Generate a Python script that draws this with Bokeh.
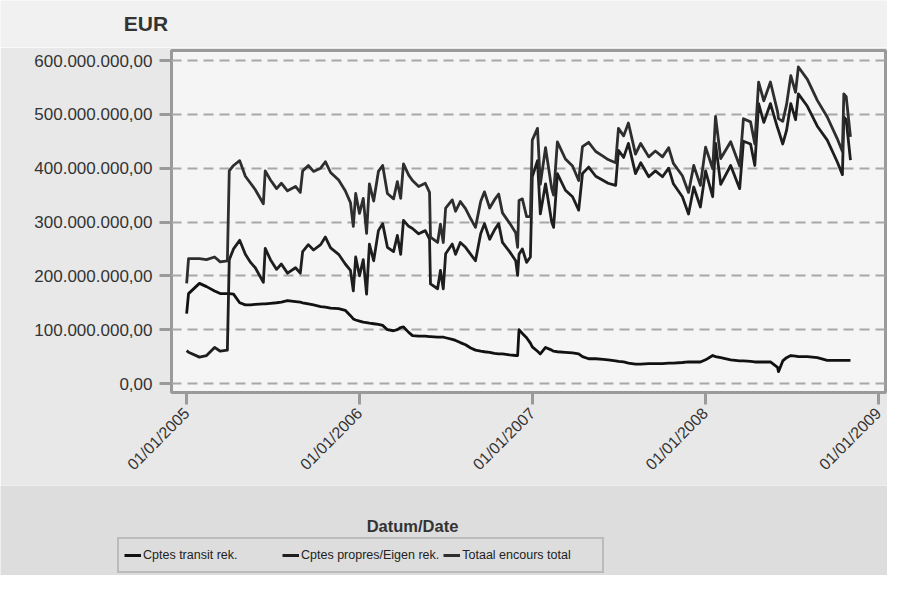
import math
import numpy as np
import pandas as pd
from bokeh.plotting import figure
from bokeh.layouts import column, row
from bokeh.models import (ColumnDataSource, Range1d, FixedTicker, DatetimeTickFormatter,
                          Legend, LegendItem)
from bokeh.core.properties import value
from bokeh.embed import file_html
from bokeh.resources import INLINE

# ---------------- data (values in millions of EUR) ----------------
dates = [
    "2005-01-01", "2005-01-05", "2005-01-28", "2005-02-12", "2005-03-01", "2005-03-13", "2005-03-28",
    "2005-04-01", "2005-04-10", "2005-04-23", "2005-05-05", "2005-05-16", "2005-05-26", "2005-06-12",
    "2005-06-16", "2005-06-27", "2005-07-10", "2005-07-20", "2005-08-02", "2005-08-19", "2005-08-29",
    "2005-09-03", "2005-09-15", "2005-09-26", "2005-10-11", "2005-10-21", "2005-11-01", "2005-11-18",
    "2005-12-02", "2005-12-13", "2005-12-19", "2005-12-24", "2006-01-01", "2006-01-09", "2006-01-16",
    "2006-01-22", "2006-01-31", "2006-02-10", "2006-02-19", "2006-03-01", "2006-03-14", "2006-03-22",
    "2006-03-29", "2006-04-04", "2006-04-15", "2006-04-23", "2006-05-06", "2006-05-20", "2006-05-29",
    "2006-05-31", "2006-06-15", "2006-06-21", "2006-06-27", "2006-07-02", "2006-07-16", "2006-07-23",
    "2006-08-02", "2006-08-13", "2006-08-24", "2006-09-03", "2006-09-14", "2006-09-22", "2006-10-03",
    "2006-10-13", "2006-10-22", "2006-10-30", "2006-11-14", "2006-11-27", "2006-12-01", "2006-12-04",
    "2006-12-11", "2006-12-20", "2006-12-28", "2007-01-01", "2007-01-12", "2007-01-18", "2007-01-29",
    "2007-02-11", "2007-02-15", "2007-02-23", "2007-03-12", "2007-03-27", "2007-04-09", "2007-04-17",
    "2007-04-30", "2007-05-15", "2007-05-31", "2007-06-10", "2007-06-26", "2007-07-02", "2007-07-13",
    "2007-07-23", "2007-08-07", "2007-08-18", "2007-09-04", "2007-09-18", "2007-10-03", "2007-10-16",
    "2007-10-26", "2007-11-14", "2007-11-27", "2007-12-08", "2007-12-22", "2008-01-02", "2008-01-17",
    "2008-01-23", "2008-02-03", "2008-02-24", "2008-03-14", "2008-03-22", "2008-04-06", "2008-04-15",
    "2008-04-23", "2008-05-04", "2008-05-18", "2008-06-02", "2008-06-04", "2008-06-13", "2008-06-21",
    "2008-06-30", "2008-07-10", "2008-07-16", "2008-08-04", "2008-08-25", "2008-09-15", "2008-10-06",
    "2008-10-17", "2008-10-20", "2008-10-25", "2008-11-03",
]
transit = [
    130, 167, 186, 180, 172, 167, 167,
    167, 166, 150, 146, 146, 147, 148,
    148, 149, 150, 151, 154, 152, 151,
    150, 148, 146, 143, 142, 140, 139,
    136, 126, 120, 118, 116, 114, 113,
    112, 111, 110, 108, 100, 98, 100,
    104, 105, 95, 89, 88, 88, 87,
    87, 86, 86, 86, 85, 82, 80,
    76, 72, 66, 62, 60, 59, 58,
    56, 55, 55, 53, 52, 52, 100,
    93, 85, 75, 68, 60, 55, 67,
    62, 60, 59, 58, 57, 55, 50,
    46, 46, 45, 44, 42, 41, 40,
    38, 36, 36, 37, 37, 37, 38,
    38, 39, 40, 40, 40, 44, 52,
    50, 48, 44, 42, 42, 41, 40,
    40, 40, 40, 30, 22, 42, 48,
    52, 51, 50, 50, 48, 43, 43,
    43, 43, 43, 43,
]
propres = [
    61, 58, 49, 52, 67, 60, 62,
    230, 250, 266, 240, 225, 215, 188,
    251, 230, 212, 222, 205, 215, 205,
    245, 258, 248, 258, 272, 252, 240,
    222, 210, 172, 235, 200, 230, 166,
    259, 228, 284, 297, 253, 245, 275,
    240, 303, 292, 288, 278, 284, 268,
    185, 176, 210, 176, 241, 259, 240,
    262, 253, 240, 228, 278, 297, 268,
    285, 297, 262, 245, 228, 201, 240,
    250, 225, 235, 384, 414, 315, 371,
    300, 290, 390, 359, 347, 322, 390,
    402, 385, 377, 372, 368, 433, 420,
    446, 390, 410, 384, 395, 384, 400,
    371, 347, 315, 365, 328, 395, 347,
    446, 370, 405, 362, 450, 445, 405,
    520, 485, 520, 475, 470, 445, 470,
    520, 490, 538, 515, 478, 452, 412,
    388, 495, 490, 415,
]
total = [
    186, 232, 232, 230, 235, 226, 228,
    395, 405, 414, 385, 372, 360, 334,
    395, 378, 362, 372, 358, 366, 355,
    395, 405, 394, 400, 412, 392, 378,
    358, 336, 292, 353, 316, 344, 279,
    371, 339, 394, 405, 353, 343, 375,
    344, 408, 387, 377, 366, 372, 355,
    272, 262, 296, 262, 326, 341, 320,
    338, 325, 306, 290, 338, 356, 326,
    341, 352, 317, 298, 280, 253, 340,
    343, 310, 310, 452, 474, 370, 438,
    362, 350, 449, 417, 404, 377, 440,
    448, 431, 422, 416, 410, 474, 460,
    484, 426, 446, 421, 432, 421, 438,
    409, 386, 355, 405, 368, 439, 399,
    496, 418, 449, 404, 492, 486, 445,
    560, 525, 560, 505, 492, 487, 518,
    572, 541, 588, 565, 526, 495, 455,
    431, 538, 533, 458,
]
series_names = ["Cptes transit rek.", "Cptes propres/Eigen rek.", "Totaal encours total"]
series_colors = ["#111111", "#1e1e1e", "#2e2e2e"]

y_ticks = [0, 100000000, 200000000, 300000000, 400000000, 500000000, 600000000]
y_tick_labels = ["0,00", "100.000.000,00", "200.000.000,00", "300.000.000,00",
                 "400.000.000,00", "500.000.000,00", "600.000.000,00"]
x_tick_dates = ["2005-01-01", "2006-01-01", "2007-01-01", "2008-01-01", "2009-01-01"]
x_tick_labels = ["01/01/2005", "01/01/2006", "01/01/2007", "01/01/2008", "01/01/2009"]

y_title = ["EUR"]
x_title = ["Datum/Date"]

FONT = "Liberation Sans"
W = 887
H0, H1, H2 = 47, 438, 90          # title strip, chart, axis-title/legend strip
ML, MR, MT = 171, 2, 3
MB = H1 - MT - 342


def strip(height, color):
    f = figure(width=W, height=height, output_backend="svg", toolbar_location=None,
               x_range=Range1d(0, W), y_range=Range1d(0, height),
               min_border_left=0, min_border_right=0, min_border_top=0, min_border_bottom=0)
    f.axis.visible = False
    f.grid.visible = False
    f.outline_line_color = None
    f.background_fill_color = color
    f.border_fill_color = color
    return f


# ---------------- top strip: unit title ----------------
t = strip(H0, "#f1f1f1")
t.text(x=[145.5], y=[H0 - 22.5], text=y_title, text_font=value(FONT), text_font_style="bold",
       text_font_size="21px", text_color="#333333", text_align="center", text_baseline="middle")

# ---------------- main chart ----------------
df = pd.DataFrame({
    "date": pd.to_datetime(dates),
    "transit": np.array(transit, dtype=float) * 1e6,
    "propres": np.array(propres, dtype=float) * 1e6,
    "total": np.array(total, dtype=float) * 1e6,
})
src = ColumnDataSource(df)

p = figure(width=W, height=H1, x_axis_type="datetime", output_backend="svg", toolbar_location=None,
           x_range=Range1d(pd.Timestamp("2004-11-30"), pd.Timestamp("2009-01-16")),
           y_range=Range1d(-16.7e6, 618.6e6),
           min_border_left=ML, min_border_right=MR, min_border_top=MT, min_border_bottom=MB)
p.title.text = ""
p.title.visible = False

p.background_fill_color = "#f5f5f5"
p.border_fill_color = "#e8e8e8"
p.outline_line_color = "#9a9a9a"
p.outline_line_width = 3

p.xgrid.grid_line_color = None
p.ygrid.grid_line_color = "#a8a8a8"
p.ygrid.grid_line_width = 2
p.ygrid.grid_line_dash = "10 6"
p.ygrid.ticker = FixedTicker(ticks=y_ticks)

p.yaxis.ticker = FixedTicker(ticks=y_ticks)
p.yaxis.major_label_overrides = {t_: l for t_, l in zip(y_ticks, y_tick_labels)}
p.yaxis.major_label_text_font = FONT
p.yaxis.major_label_text_font_size = "17px"
p.yaxis.major_label_text_color = "#333333"
p.yaxis.major_tick_out = 12
p.yaxis.major_tick_in = 0
p.yaxis.major_tick_line_color = "#9a9a9a"
p.yaxis.major_tick_line_width = 3
p.yaxis.minor_tick_line_color = None
p.yaxis.axis_line_color = None
p.yaxis.major_label_standoff = 7

x_tick_ms = [pd.Timestamp(d).value // 10**6 for d in x_tick_dates]
p.xaxis.ticker = FixedTicker(ticks=x_tick_ms)
p.xaxis.formatter = DatetimeTickFormatter(days="%d/%m/%Y", months="%d/%m/%Y", years="%d/%m/%Y")
p.xaxis.major_label_overrides = {float(t_): l for t_, l in zip(x_tick_ms, x_tick_labels)}
p.xaxis.major_label_orientation = math.pi / 4
p.xaxis.major_label_text_font = FONT
p.xaxis.major_label_text_font_size = "16px"
p.xaxis.major_label_text_color = "#333333"
p.xaxis.major_tick_out = 12
p.xaxis.major_tick_in = 0
p.xaxis.major_tick_line_color = "#9a9a9a"
p.xaxis.major_tick_line_width = 3
p.xaxis.minor_tick_line_color = None
p.xaxis.axis_line_color = None
p.xaxis.major_label_standoff = 6

for col, color in zip(["transit", "propres", "total"], series_colors):
    p.line(x="date", y=col, source=src, line_color=color, line_width=2.8, line_join="round")

# ---------------- bottom strip: axis title + legend ----------------
q = strip(H2, "#dddddd")
q.text(x=[412], y=[H2 - 40], text=x_title, text_font=value(FONT), text_font_style="bold",
       text_font_size="16.5px", text_color="#333333", text_align="center", text_baseline="middle")

# legend proxies placed off-canvas, so only their legend swatches are visible
legend_renderers = [q.line(x=[-100, -90], y=[-100, -100], line_color=c, line_width=3)
                    for c in series_colors]
legend = Legend(items=[LegendItem(label=n, renderers=[r]) for n, r in zip(series_names, legend_renderers)],
                orientation="horizontal", location=(117, 2))
legend.label_text_font = FONT
legend.label_text_font_size = "12.5px"
legend.label_text_color = "#222222"
legend.glyph_width = 17
legend.glyph_height = 14
legend.label_standoff = 2
legend.label_width = 135
legend.label_height = 22
legend.spacing = 4
legend.padding = 5
legend.margin = 0
legend.border_line_color = "#9a9a9a"
legend.border_line_width = 2
legend.background_fill_color = "#dddddd"
legend.background_fill_alpha = 1.0
q.add_layout(legend)

layout = column(row(t, spacing=0), p, row(q, spacing=0), spacing=0)
open("out.html", "w").write(file_html(layout, INLINE))
